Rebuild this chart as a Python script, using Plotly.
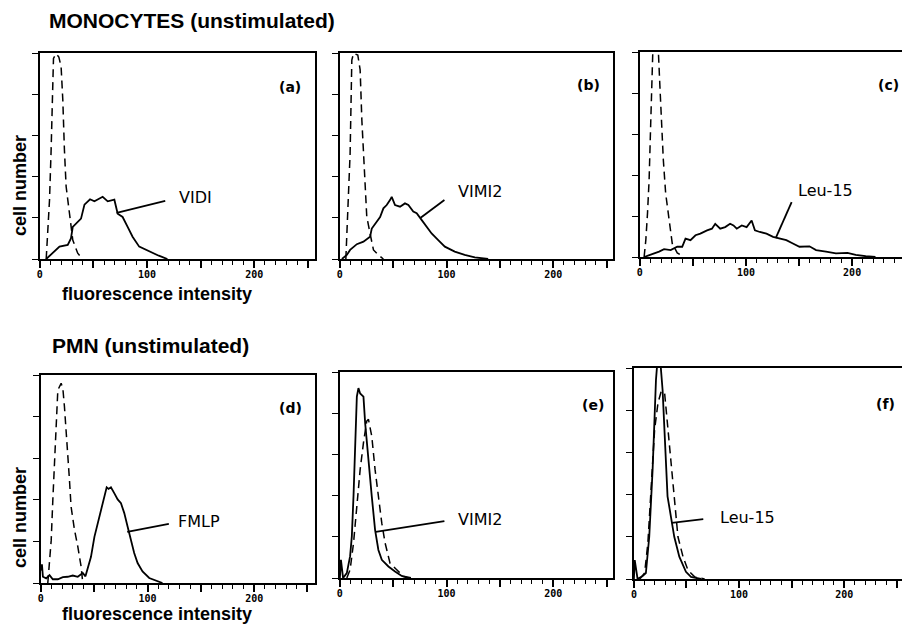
import plotly.graph_objects as go

# ---------------- data (fluorescence channel, cell number in tick units) -------------
# (a) monocytes, VIDI
a_sol_x = [5.9, 10.5, 18.3, 26, 29, 30.7, 35.3, 38.4, 41.6, 46.8, 50.9, 55, 58.6, 63.3, 66, 69.5, 72.6, 77.2, 81.9, 86.5, 92.7, 102, 111, 119]
a_sol_y = [0, 0.12, 0.3, 0.34, 0.5, 0.78, 0.9, 0.98, 1.32, 1.45, 1.40, 1.46, 1.51, 1.40, 1.42, 1.44, 1.10, 1.02, 0.78, 0.54, 0.30, 0.18, 0.08, 0]
a_dash_x = [5.9, 7.4, 9.0, 10.5, 11.5, 12.7, 15.2, 17.7, 19.8, 21.4, 22.9, 24.5, 27.6, 30.7, 35.3, 40]
a_dash_y = [0, 0.62, 1.43, 2.65, 4.02, 4.87, 4.98, 4.9, 4.67, 3.86, 2.65, 1.76, 1.11, 0.46, 0.14, 0]

# (b) monocytes, VIMI2
b_sol_x = [1.9, 6.5, 9.6, 15.9, 22.1, 28.3, 29.9, 33, 37.7, 40.8, 43.9, 47, 48.6, 51.7, 56.4, 61, 64.2, 68.8, 72, 76.6, 81.3, 86, 92.2, 98.4, 107.7, 117, 126.5, 139]
b_sol_y = [0, 0.1, 0.22, 0.36, 0.42, 0.54, 0.74, 0.86, 1.02, 1.23, 1.31, 1.43, 1.51, 1.31, 1.27, 1.35, 1.31, 1.15, 1.11, 0.95, 0.79, 0.62, 0.46, 0.30, 0.18, 0.10, 0.04, 0]
b_dash_x = [5.6, 6.5, 8.1, 9.6, 11.2, 12.8, 16.8, 19, 20.6, 22.1, 23.7, 25.2, 28.3, 31.5, 36.1, 40.8]
b_dash_y = [0, 0.62, 1.35, 2.56, 4.83, 4.99, 4.95, 4.59, 3.37, 2.56, 1.76, 1.03, 0.62, 0.22, 0.1, 0]

# (c) monocytes, Leu-15
c_sol_x = [4, 10.3, 18.1, 22.8, 29, 35.2, 39.9, 43, 47.7, 52.4, 57, 63.3, 67.9, 71, 75.7, 80.4, 85, 88.2, 91.3, 96, 100.6, 105.3, 108.4, 113, 119.3, 125.5, 131.7, 138, 144.2, 150.4, 159.8, 166, 175.4, 184.7, 195.6, 203.4, 212.8, 222]
c_sol_y = [0, 0.05, 0.13, 0.19, 0.17, 0.25, 0.25, 0.45, 0.41, 0.53, 0.57, 0.65, 0.69, 0.81, 0.69, 0.73, 0.81, 0.77, 0.69, 0.77, 0.73, 0.89, 0.65, 0.61, 0.57, 0.49, 0.45, 0.41, 0.33, 0.25, 0.26, 0.17, 0.13, 0.09, 0.10, 0.05, 0.02, 0]
c_dash_x = [4, 5.6, 7.2, 8.7, 10.3, 11.2, 12.4, 14.5, 17.1, 18.9, 20.6, 22.1, 24.3, 27.4, 30.5, 35.2, 41.4]
c_dash_y = [0, 0.41, 1.07, 1.88, 3.34, 4.56, 5.2, 5.3, 5.2, 4.15, 3.1, 2.37, 1.55, 0.9, 0.33, 0.1, 0]

# (d) PMN, FMLP
d_sol_x = [0, 1, 1.9, 5.0, 8.1, 11.2, 15.9, 20.6, 25.2, 29.9, 34.6, 39.3, 41.8, 43.9, 47, 50.2, 53.3, 56.4, 59.5, 61.7, 63.5, 65.7, 68.8, 72, 75.1, 78.2, 81.3, 84.4, 87.5, 90.7, 95.3, 101.6, 107.8, 114]
d_sol_y = [0.3, 0.45, 0.15, 0.11, 0.19, 0.09, 0.09, 0.14, 0.15, 0.18, 0.15, 0.24, 0.16, 0.35, 0.63, 1.11, 1.43, 1.79, 2.11, 2.30, 2.26, 2.30, 2.16, 2.01, 1.92, 1.68, 1.36, 1.04, 0.72, 0.48, 0.28, 0.12, 0.06, 0]
d_dash_x = [6.5, 8.1, 9.7, 11.2, 12.8, 14.3, 15.9, 19, 20.6, 22.1, 23.7, 25.2, 26.8, 28.3, 31.5, 34.6, 37.7, 39.3]
d_dash_y = [0, 0.47, 1.03, 1.99, 2.95, 3.99, 4.64, 4.80, 4.68, 4.24, 3.68, 3.2, 2.48, 1.84, 1.28, 0.88, 0.40, 0]

# (e) PMN, VIMI2
e_sol_x = [0, 1, 3, 6.5, 9.6, 11.2, 12.8, 14.3, 15.9, 17.4, 19, 20.6, 22.1, 23.7, 26.8, 29.9, 33, 36.1, 39.3, 45.5, 51.7, 58, 64.2]
e_sol_y = [0, 0.44, 0, 0.12, 0.53, 1.01, 2.0, 3.35, 4.4, 4.61, 4.48, 4.44, 4.4, 3.76, 2.79, 1.98, 1.17, 0.68, 0.44, 0.28, 0.16, 0.05, 0]
e_dash_x = [6.5, 9.6, 12.8, 15.9, 19, 22.1, 25.2, 26.8, 29.9, 33, 36.1, 39.3, 42.4, 47, 53.3, 59.5, 67.3]
e_dash_y = [0, 0.2, 0.85, 1.74, 2.63, 3.28, 3.81, 3.85, 3.44, 2.63, 1.98, 1.33, 0.85, 0.36, 0.2, 0.04, 0]

# (f) PMN, Leu-15
f_sol_x = [0, 0.8, 3.5, 8.3, 11.4, 14.6, 17.8, 19.4, 21, 22.5, 25, 27.3, 28.9, 30.5, 32, 35.2, 38.4, 43.2, 49.5, 54.3, 63.8]
f_sol_y = [0, 0.45, 0, 0.07, 0.14, 1.0, 2.59, 3.93, 4.72, 5.2, 5.2, 4.48, 3.54, 2.59, 1.96, 1.48, 1.0, 0.53, 0.17, 0.05, 0]
f_dash_x = [5.6, 10.2, 13.3, 16.5, 19.7, 22.9, 26, 29.2, 32.4, 35.6, 38.7, 41.9, 46.7, 51.4, 57.8, 67.3]
f_dash_y = [0, 0.14, 0.85, 2.35, 3.54, 4.17, 4.45, 4.41, 3.54, 2.59, 1.80, 1.0, 0.53, 0.21, 0.05, 0]

panel_tags = ["(a)", "(b)", "(c)", "(d)", "(e)", "(f)"]
curve_names = ["VIDI", "VIMI2", "Leu-15", "FMLP", "VIMI2", "Leu-15"]
# leader lines: from curve point (x0,y0) to label side (x1,y1), data units
leader_x0 = [71.6, 75.7, 128, 81, 33.6, 36]
leader_y0 = [1.12, 1.0, 0.46, 1.23, 1.12, 1.33]
leader_x1 = [117, 98, 143, 120, 98, 66]
leader_y1 = [1.41, 1.43, 1.34, 1.42, 1.38, 1.42]
label_x = [128, 109, 147, 127, 109, 80]
label_y = [1.5, 1.63, 1.63, 1.47, 1.41, 1.45]

x_ticks = [0, 50, 100, 150, 200, 250]
x_tick_text = ["<b>0</b>", "", "<b>100</b>", "", "<b>200</b>", ""]
y_ticks = [0, 1, 2, 3, 4, 5]

# ---------------- layout geometry (pixels) -------------
W, H = 902, 624
panels_px = [  # left, right, top, bottom, xmax
    (37, 313, 53, 259, 256.7),
    (338, 612, 53, 259, 256),
    (639, 902, 52, 257, 247),
    (38, 313, 375, 583, 257),
    (338, 612, 372, 578, 256),
    (633, 902, 368, 579, 255),
]
tag_px = [(288, 87), (587, 85), (888, 85), (288, 408), (592, 405), (885, 404)]

sols = [(a_sol_x, a_sol_y), (b_sol_x, b_sol_y), (c_sol_x, c_sol_y),
        (d_sol_x, d_sol_y), (e_sol_x, e_sol_y), (f_sol_x, f_sol_y)]
dashes = [(a_dash_x, a_dash_y), (b_dash_x, b_dash_y), (c_dash_x, c_dash_y),
          (d_dash_x, d_dash_y), (e_dash_x, e_dash_y), (f_dash_x, f_dash_y)]

fig = go.Figure()
layout = {}
shapes = []
annotations = []
tickfont = dict(family="DejaVu Sans Mono", size=10, color="black")
label_font = dict(family="DejaVu Sans", size=16, color="black")
tag_font = dict(family="DejaVu Sans", size=14, color="black")

for i in range(6):
    n = "" if i == 0 else str(i + 1)
    xa, ya = "x" + n, "y" + n
    l, r, t, b, xmax = panels_px[i]
    fig.add_trace(go.Scatter(x=dashes[i][0], y=dashes[i][1], xaxis=xa, yaxis=ya, mode="lines",
                             line=dict(color="black", width=1.5, dash="8px,5px"), showlegend=False,
                             hoverinfo="skip"))
    fig.add_trace(go.Scatter(x=sols[i][0], y=sols[i][1], xaxis=xa, yaxis=ya, mode="lines",
                             line=dict(color="black", width=1.8), showlegend=False,
                             hoverinfo="skip"))
    right_clip = r >= W
    layout["xaxis" + n] = dict(
        domain=[l / W, r / W], range=[0, xmax], anchor=ya,
        showline=True, linecolor="black", linewidth=1.6, mirror=True,
        showgrid=False, zeroline=False,
        tickmode="array", tickvals=x_ticks, ticktext=x_tick_text,
        ticks="outside", ticklen=7, tickwidth=1.6, tickcolor="black",
        tickfont=tickfont, ticklabelstandoff=-2,
        minor=dict(dtick=10, tick0=0, ticks="outside", ticklen=4, tickwidth=1.3, tickcolor="black"),
    )
    layout["yaxis" + n] = dict(
        domain=[1 - b / H, 1 - t / H], range=[0, 5], anchor=xa,
        showline=True, linecolor="black", linewidth=1.6, mirror=(not right_clip),
        showgrid=False, zeroline=False, showticklabels=False,
        tickmode="array", tickvals=y_ticks,
        ticks="outside", ticklen=6, tickwidth=1.4, tickcolor="black",
    )
    shapes.append(dict(type="line", xref=xa, yref=ya, x0=leader_x0[i], y0=leader_y0[i],
                       x1=leader_x1[i], y1=leader_y1[i], line=dict(color="black", width=1.8)))
    annotations.append(dict(x=label_x[i], y=label_y[i], xref=xa, yref=ya, text=curve_names[i],
                            showarrow=False, xanchor="left", yanchor="middle", font=label_font))
    tx, ty = tag_px[i]
    annotations.append(dict(x=tx / W, y=1 - ty / H, xref="paper", yref="paper",
                            text="<b>" + panel_tags[i] + "</b>",
                            showarrow=False, xanchor="center", yanchor="middle", font=tag_font))

bold = dict(family="Liberation Sans", color="black")
annotations += [
    dict(x=44 / W, y=1 - 20 / H, xref="paper", yref="paper", text="<b>MONOCYTES (unstimulated)</b>",
         showarrow=False, xanchor="left", yanchor="middle", font=dict(size=21, **bold)),
    dict(x=47 / W, y=1 - 345 / H, xref="paper", yref="paper", text="<b>PMN (unstimulated)</b>",
         showarrow=False, xanchor="left", yanchor="middle", font=dict(size=21, **bold)),
    dict(x=17 / W, y=1 - 185 / H, xref="paper", yref="paper", text="<b>cell number</b>", textangle=-90,
         showarrow=False, xanchor="center", yanchor="middle", font=dict(size=18, **bold)),
    dict(x=17 / W, y=1 - 517 / H, xref="paper", yref="paper", text="<b>cell number</b>", textangle=-90,
         showarrow=False, xanchor="center", yanchor="middle", font=dict(size=18, **bold)),
    dict(x=155 / W, y=1 - 294 / H, xref="paper", yref="paper", text="<b>fluorescence intensity</b>",
         showarrow=False, xanchor="center", yanchor="middle", font=dict(size=18, **bold)),
    dict(x=155 / W, y=1 - 614 / H, xref="paper", yref="paper", text="<b>fluorescence intensity</b>",
         showarrow=False, xanchor="center", yanchor="middle", font=dict(size=18, **bold)),
]

fig.update_layout(width=W, height=H, margin=dict(l=0, r=0, t=0, b=0),
                  paper_bgcolor="white", plot_bgcolor="white", hovermode=False,
                  shapes=shapes, annotations=annotations, **layout)
fig.write_html("out.html", config={"displayModeBar": False},
               post_script="document.body.style.margin='0';document.body.style.padding='0';"
                           "document.body.style.overflow='hidden';")
